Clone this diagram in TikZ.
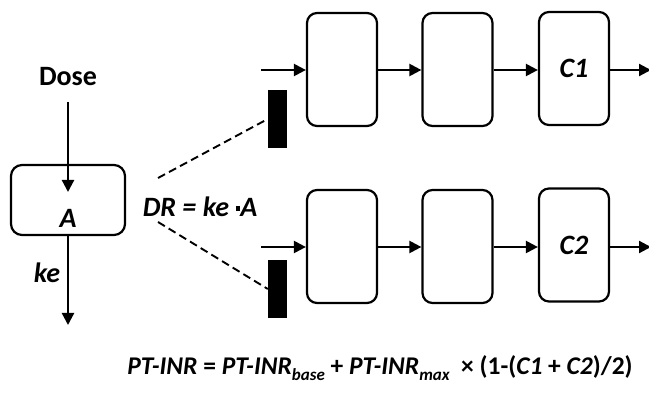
\documentclass[tikz,border=0pt]{standalone}
\usepackage{fontspec}
\setmainfont{Carlito}
\usetikzlibrary{arrows.meta}
\newcommand\mysubx[1]{\raisebox{-0.45ex}{\fontsize{17}{17}\selectfont\itshape #1}}
\newcommand\sqdot{\rule[0.22em]{0.17em}{0.17em}}
\begin{document}
\begin{tikzpicture}[x=1pt,y=-1pt,
  lbl/.style={font=\fontsize{28}{28}\selectfont\bfseries\itshape, inner sep=0pt},
  comp/.style={draw, line width=2.2pt, rounded corners=10pt, minimum width=70pt, minimum height=113pt, inner sep=0pt},
  conn/.style={line width=2.2pt, -{Triangle[length=12pt,width=12pt]}},
  bar/.style={fill=black, draw=none, minimum width=19pt, minimum height=58pt, inner sep=0pt},
  dsh/.style={line width=1.9pt, dash pattern=on 8pt off 4.5pt}]
\useasboundingbox (0,0) rectangle (649,398);
% A compartment
\node[draw, line width=2.2pt, rounded corners=11pt, minimum width=114pt, minimum height=70pt, inner sep=0pt] (A) at (68,200) {};
\node[lbl] (Atxt) at (68,218) {A};
\node[lbl, font=\fontsize{28}{28}\selectfont\bfseries] (dose) at (68,77) {Dose};
\coordinate (dosestart) at (68,102);
\coordinate (dosein) at (68,192);
\draw[conn] (dosestart) -- (dosein);
\coordinate (keend) at (68,325);
\draw[conn] (A.south) -- (keend);
\node[lbl] (ke) at (47,273) {ke};
\node[lbl] (dr) at (200,207) {DR = ke \sqdot A};
% bars
\node[bar] (b1) at (277.5,119) {};
\node[bar] (b2) at (277.5,289) {};
\coordinate (d1) at (158,178);
\coordinate (d2) at (158,222);
\draw[dsh] (d1) -- (b1.west);
\draw[dsh] (d2) -- (b2.west);
% upper chain
\node[comp] (u1) at (342,69.5) {};
\node[comp] (u2) at (457.5,69.5) {};
\node[comp, label={[lbl]center:C1}] (u3) at (574,68.5) {};
\coordinate (uin) at (261,70);
\coordinate (uout) at (651,70);
\draw[conn] (uin) -- (u1.west |- uin);
\draw[conn] (u1.east |- uin) -- (u2.west |- uin);
\draw[conn] (u2.east |- uin) -- (u3.west |- uin);
\draw[conn] (u3.east |- uin) -- (uout);
% lower chain
\node[comp] (l1) at (342,246.5) {};
\node[comp] (l2) at (457.5,246.5) {};
\node[comp, label={[lbl]center:C2}] (l3) at (574,245) {};
\coordinate (lin) at (261,247);
\coordinate (lout) at (651,247);
\draw[conn] (lin) -- (l1.west |- lin);
\draw[conn] (l1.east |- lin) -- (l2.west |- lin);
\draw[conn] (l2.east |- lin) -- (l3.west |- lin);
\draw[conn] (l3.east |- lin) -- (lout);
% formula
\node[font=\fontsize{25.5}{25.5}\selectfont\bfseries, inner sep=0pt, anchor=base] (f) at (380,375)
 {\textit{PT-INR} = \textit{PT-INR}\mysubx{base} + \textit{PT-INR}\mysubx{max}\ \ × (1-(\textit{C1} + \textit{C2})/2)};
\end{tikzpicture}
\end{document}
